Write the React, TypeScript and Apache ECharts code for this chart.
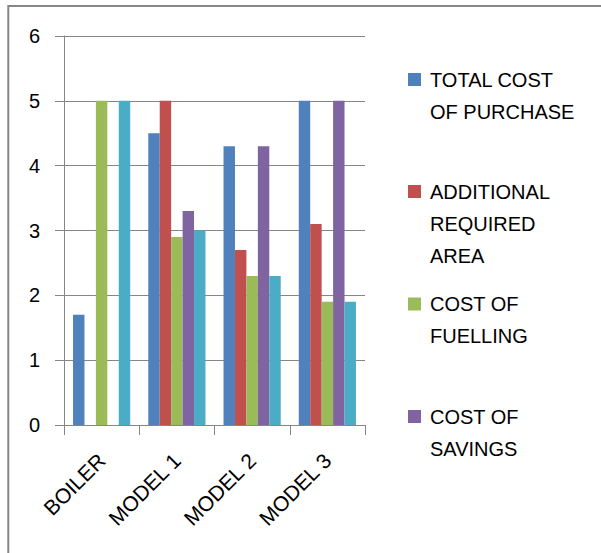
import React, { useEffect, useRef } from "react";
import * as echarts from "echarts";

const categories = ["BOILER", "MODEL 1", "MODEL 2", "MODEL 3"];
const seriesNames = [
  "TOTAL COST OF PURCHASE",
  "ADDITIONAL REQUIRED AREA",
  "COST OF FUELLING",
  "COST OF SAVINGS",
  "SERIES 5",
];
const legendLines = [
  ["TOTAL COST", "OF PURCHASE"],
  ["ADDITIONAL", "REQUIRED", "AREA"],
  ["COST OF", "FUELLING"],
  ["COST OF", "SAVINGS"],
];
const totalCostOfPurchase = [1.7, 4.5, 4.3, 5];
const additionalRequiredArea = [0, 5, 2.7, 3.1];
const costOfFuelling = [5, 2.9, 2.3, 1.9];
const costOfSavings = [0, 3.3, 4.3, 5];
const series5 = [5, 3, 2.3, 1.9];
const yTicks = [0, 1, 2, 3, 4, 5, 6];

const colors = ["#4F81BD", "#C0504D", "#9BBB59", "#8064A2", "#4BACC6"];
const FONT = "Liberation Sans";

export default function App() {
  const ref = useRef<HTMLDivElement>(null);
  useEffect(() => {
    document.body.style.margin = "0";
    const chart = echarts.init(ref.current!, undefined, { renderer: "svg" });
    const values = [totalCostOfPurchase, additionalRequiredArea, costOfFuelling, costOfSavings, series5];
    const firstLineCenters = [79.5, 191.5, 304, 416.5];
    const LH = 32;
    const legends = legendLines.map((lines, i) => {
      const n = lines.length;
      return {
        orient: "vertical",
        left: 408,
        top: firstLineCenters[i] - (2 * n - 1) * (LH / 2),
        padding: 0,
        itemWidth: 13,
        itemHeight: 13,
        icon: "rect",
        data: [seriesNames[i]],
        formatter: () => ["{sp| }", ...lines.map((l) => "{t|" + l + "}")].join("\n"),
        textStyle: {
          fontFamily: FONT,
          fontSize: 20,
          color: "#000",
          lineHeight: LH,
          rich: {
            sp: { fontSize: 10, lineHeight: (n - 1) * LH, padding: [0, 0, 0, 4] },
            t: { fontFamily: FONT, fontSize: 20, color: "#000", lineHeight: LH, padding: [0, 0, 0, 4] },
          },
        },
      };
    });
    chart.setOption({
      animation: false,
      color: colors,
      textStyle: { fontFamily: FONT },
      graphic: [
        {
          type: "rect",
          shape: { x: 8.3, y: 6, width: 800, height: 800 },
          style: { fill: "none", stroke: "#868686", lineWidth: 2 },
          silent: true,
        },
      ],
      legend: legends,
      grid: { left: 64, top: 36, width: 301, height: 389, containLabel: false },
      xAxis: {
        type: "category",
        data: categories,
        boundaryGap: true,
        axisLine: { show: true, lineStyle: { color: "#868686", width: 1 } },
        axisTick: { show: true, length: 10, alignWithLabel: false, lineStyle: { color: "#868686" } },
        axisLabel: {
          rotate: 45,
          margin: 32,
          interval: 0,
          fontFamily: FONT,
          fontSize: 21,
          color: "#000",
        },
        splitLine: { show: false },
      },
      yAxis: {
        type: "value",
        min: yTicks[0],
        max: yTicks[yTicks.length - 1],
        interval: 1,
        axisLine: { show: true, lineStyle: { color: "#868686", width: 1 } },
        axisTick: { show: true, length: 9, lineStyle: { color: "#868686" } },
        axisLabel: { margin: 24, fontFamily: FONT, fontSize: 20, color: "#000" },
        splitLine: { show: true, lineStyle: { color: "#868686", width: 1 } },
      },
      series: seriesNames.map((name, i) => ({
        type: "bar",
        name,
        data: values[i],
        barGap: "0%",
        barCategoryGap: "24%",
        itemStyle: { color: colors[i] },
      })),
    });
    return () => chart.dispose();
  }, []);
  return <div ref={ref} style={{ width: 601, height: 553 }} />;
}
